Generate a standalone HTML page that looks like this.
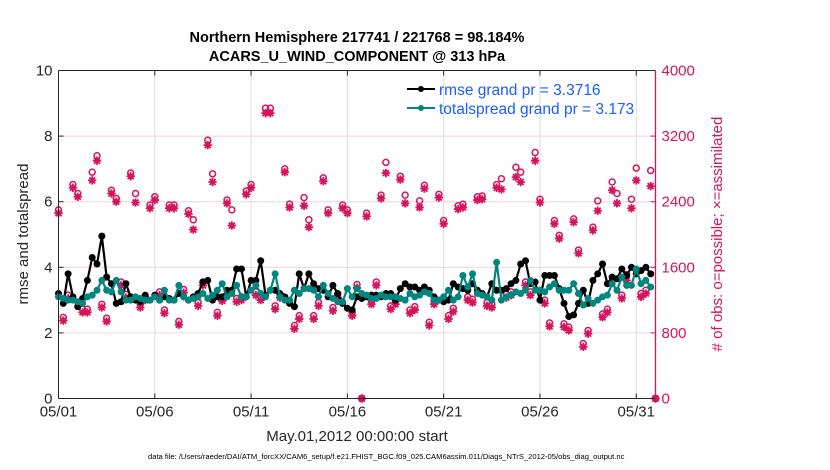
<!DOCTYPE html>
<html><head><meta charset="utf-8"><style>
html,body{margin:0;padding:0;background:#fff;}
svg{display:block;font-family:"Liberation Sans",Arial,sans-serif;}
</style></head><body>
<svg id="chart" width="830" height="470" viewBox="0 0 830 470">
<text x="357" y="42" text-anchor="middle" font-size="14.5" font-weight="bold" fill="#000">Northern Hemisphere 217741 / 221768 = 98.184%</text>
<text x="357" y="61" text-anchor="middle" font-size="14.5" font-weight="bold" fill="#000">ACARS_U_WIND_COMPONENT @ 313 hPa</text>
<g id="grid"></g>
<g id="obs"></g>
<g id="lines"></g>
<g id="axes"></g>
<text transform="translate(28,234) rotate(-90)" text-anchor="middle" font-size="15" fill="#262626">rmse and totalspread</text>
<text transform="translate(722,234) rotate(-90)" text-anchor="middle" font-size="15" fill="#d6135d"># of obs: o=possible; ×=assimilated</text>
<text x="357" y="441" text-anchor="middle" font-size="15" fill="#262626">May.01,2012 00:00:00 start</text>
<text x="148" y="459" font-size="7.6" fill="#000">data file: /Users/raeder/DAI/ATM_forcXX/CAM6_setup/f.e21.FHIST_BGC.f09_025.CAM6assim.011/Diags_NTrS_2012-05/obs_diag_output.nc</text>
<g>
<line x1="407" y1="89" x2="435" y2="89" stroke="#000" stroke-width="2"/><circle cx="421" cy="89" r="3" fill="#000"/>
<text x="439" y="95" font-size="15.5" fill="#1a5cff">rmse grand pr = 3.3716</text>
<line x1="407" y1="108" x2="435" y2="108" stroke="#00857f" stroke-width="2"/><circle cx="421" cy="108" r="3" fill="#00857f"/>
<text x="439" y="114" font-size="15.5" fill="#1a5cff">totalspread grand pr = 3.173</text>
</g>
</svg>
<script>
const xTickLabels = ["05/01","05/06","05/11","05/16","05/21","05/26","05/31"];
const xTickDays = [0,5,10,15,20,25,30];
const yLeftTicks = [0,2,4,6,8,10];
const yRightTicks = [0,800,1600,2400,3200,4000];
const rmse = [3.2,2.9,3.8,3.1,2.8,3.05,3.6,4.3,4.1,4.95,
3.7,3.5,2.9,2.95,3.5,3.1,3.0,2.95,3.15,3.0,
3.15,3.0,3.1,3.05,3.0,3.2,3.1,3.0,3.1,3.2,
3.55,3.6,3.0,3.1,3.1,3.3,3.3,3.95,3.95,3.1,
3.6,3.6,4.2,3.15,3.3,3.3,3.2,3.1,2.9,2.8,
3.8,3.35,3.8,3.5,3.35,3.3,3.1,3.45,3.2,2.9,
2.75,2.7,3.1,3.05,3.1,3.15,3.15,3.1,3.2,3.2,
3.0,3.35,3.5,3.4,3.4,3.3,3.4,3.3,3.1,3.0,
2.95,3.0,3.5,3.4,3.35,3.3,3.5,3.3,3.2,3.1,
3.5,3.3,3.3,3.35,3.5,3.6,4.1,4.2,3.5,3.55,
3.0,3.75,3.75,3.75,3.35,2.9,2.5,2.55,2.9,3.3,
2.9,3.6,3.8,4.1,3.5,3.7,3.65,3.95,3.75,4.0,
3.8,3.9,4.0,3.8];
const totalspread = [3.1,3.05,3.0,3.0,2.95,2.9,3.1,3.15,3.3,3.6,
3.3,3.25,3.6,3.25,3.0,3.0,3.1,3.05,3.0,3.0,
3.1,3.0,3.3,3.0,3.0,3.45,3.1,3.0,3.05,3.1,
3.2,3.05,3.15,3.3,3.5,3.1,3.2,3.45,3.1,3.1,
3.3,3.45,3.2,3.1,3.3,3.8,3.1,3.0,3.0,3.3,
3.2,3.35,3.35,3.3,3.1,3.45,3.2,3.05,2.95,2.95,
3.35,3.1,3.35,3.2,3.15,3.05,3.05,3.15,3.1,3.1,
3.1,3.05,3.0,3.2,3.1,3.15,3.25,3.2,3.0,3.0,
3.1,3.3,3.0,3.1,3.75,3.4,3.8,3.2,3.15,3.1,
3.0,4.15,3.0,3.1,3.15,3.25,3.2,3.3,3.6,3.3,
3.3,3.25,3.4,3.5,3.3,3.3,3.3,3.5,3.2,2.85,
3.05,2.9,3.0,3.1,3.15,3.5,3.3,3.7,3.45,3.45,
3.95,3.5,3.6,3.4];
const obsAssimilated = [2260,950,1220,2570,2460,1050,1050,2660,2900,1110,
940,2500,2400,1380,1230,2710,2390,1110,1200,2320,
2420,1260,1040,2320,2320,900,1290,2250,2060,1130,
1380,3090,2640,1010,1190,2380,2110,1180,1200,2490,
2570,1260,1200,3480,3480,1090,1230,2760,2330,850,
970,2350,2090,970,1130,2650,2260,1070,1230,2320,
2260,1010,1350,0,2220,1150,1380,2440,2750,1090,
1150,2670,2380,1040,1080,2330,2560,890,1150,2450,
2130,970,1060,2310,2330,1200,1170,2420,2430,1130,
1110,2570,2550,1230,1260,2700,2640,1380,1260,2900,
2390,1160,880,2130,1950,870,830,2150,1770,630,
790,2050,2290,990,1050,2540,2380,1220,1440,2320,
2660,1240,1280,2590,0];
const obsPossible = [2300,990,1260,2610,2500,1090,1090,2760,2960,1150,
980,2540,2440,1420,1270,2750,2500,1150,1240,2360,
2460,1300,1080,2360,2360,940,1330,2290,2180,1170,
1420,3150,2740,1050,1230,2420,2300,1220,1240,2530,
2610,1300,1240,3540,3540,1130,1270,2800,2370,890,
1010,2450,2180,1010,1170,2690,2300,1110,1270,2360,
2300,1050,1390,0,2260,1190,1420,2480,2880,1130,
1190,2710,2480,1080,1120,2410,2600,930,1190,2490,
2170,1010,1100,2350,2370,1240,1210,2460,2470,1170,
1150,2610,2680,1270,1300,2820,2760,1420,1300,3000,
2430,1200,920,2170,1990,910,870,2190,1810,670,
830,2090,2410,1030,1090,2640,2500,1260,1510,2430,
2810,1280,1320,2780,0];

const NS='http://www.w3.org/2000/svg';
const L=58.5,R=655.5,T=70.5,B=398.5,DMAX=31.0;
const xS=d=>L+(R-L)*d/DMAX;
const yL=v=>B-(B-T)*v/10;
const yR=v=>B-(B-T)*v/4000;
function mk(tag,attrs,parent){const e=document.createElementNS(NS,tag);for(const k in attrs)e.setAttribute(k,attrs[k]);parent.appendChild(e);return e;}
const grid=document.getElementById('grid'),axes=document.getElementById('axes'),obs=document.getElementById('obs'),lines=document.getElementById('lines');
const pink='#d6135d';
xTickDays.forEach((d,i)=>{
  const x=xS(d);
  const g=mk('line',{x1:x,y1:T,x2:x,y2:B,stroke:'#dcdcdc','stroke-width':1},grid);
  
  
  mk('line',{x1:x,y1:B,x2:x,y2:B-5,stroke:'#262626'},axes);
  mk('line',{x1:x,y1:T,x2:x,y2:T+5,stroke:'#262626'},axes);
  const t=mk('text',{x:x,y:B+18,'text-anchor':'middle','font-size':15,fill:'#262626'},axes);
  t.textContent=xTickLabels[i];
  
  
});
yLeftTicks.forEach(v=>{
  const y=yL(v);
  if(v>0&&v<10){const g=mk('line',{x1:L,y1:y,x2:R,y2:y,stroke:'#f0d0dc','stroke-width':1},grid);
  
  }
  mk('line',{x1:L,y1:y,x2:L+5,y2:y,stroke:'#262626'},axes);
  const t=mk('text',{x:L-6,y:y+5,'text-anchor':'end','font-size':15,fill:'#262626'},axes);
  t.textContent=v;
  
  
});
yRightTicks.forEach(v=>{
  const y=yR(v);
  mk('line',{x1:R,y1:y,x2:R-5,y2:y,stroke:pink},axes);
  const t=mk('text',{x:R+6,y:y+5,'font-size':15,fill:pink},axes);
  t.textContent=v;
  
  
});
mk('line',{x1:L,y1:T,x2:R,y2:T,stroke:'#262626'},axes);
mk('line',{x1:L,y1:B,x2:R,y2:B,stroke:'#262626'},axes);
mk('line',{x1:L,y1:T,x2:L,y2:B,stroke:'#262626'},axes);
mk('line',{x1:R,y1:T,x2:R,y2:B,stroke:pink,'stroke-width':1.3},axes);

obsPossible.forEach((v,i)=>{
  const c=mk('circle',{cx:xS(i/4),cy:yR(v),r:3,fill:'none',stroke:pink,'stroke-width':1.5},obs);
  
  
});
obsAssimilated.forEach((v,i)=>{
  const x=xS(i/4),y=yR(v),r=4.2;
  const p=mk('path',{d:`M${x-r},${y}H${x+r}M${x},${y-r}V${y+r}M${x-3},${y-3}L${x+3},${y+3}M${x-3},${y+3}L${x+3},${y-3}`,stroke:pink,'stroke-width':1.8,fill:'none'},obs);
  
  
  mk('circle',{cx:x,cy:y,r:2.6,fill:pink},obs);
});
function series(arr,color,name){
  const pts=arr.map((v,i)=>xS(i/4)+','+yL(v)).join(' ');
  const pl=mk('polyline',{points:pts,fill:'none',stroke:color,'stroke-width':2.2,'stroke-linejoin':'round'},lines);
  
  
  arr.forEach((v,i)=>{
    const c=mk('circle',{cx:xS(i/4),cy:yL(v),r:3.5,fill:color},lines);
    
    
  });
}
series(rmse,'#000','rmse');
series(totalspread,'#00857f','totalspread');
</script>
</body></html>
